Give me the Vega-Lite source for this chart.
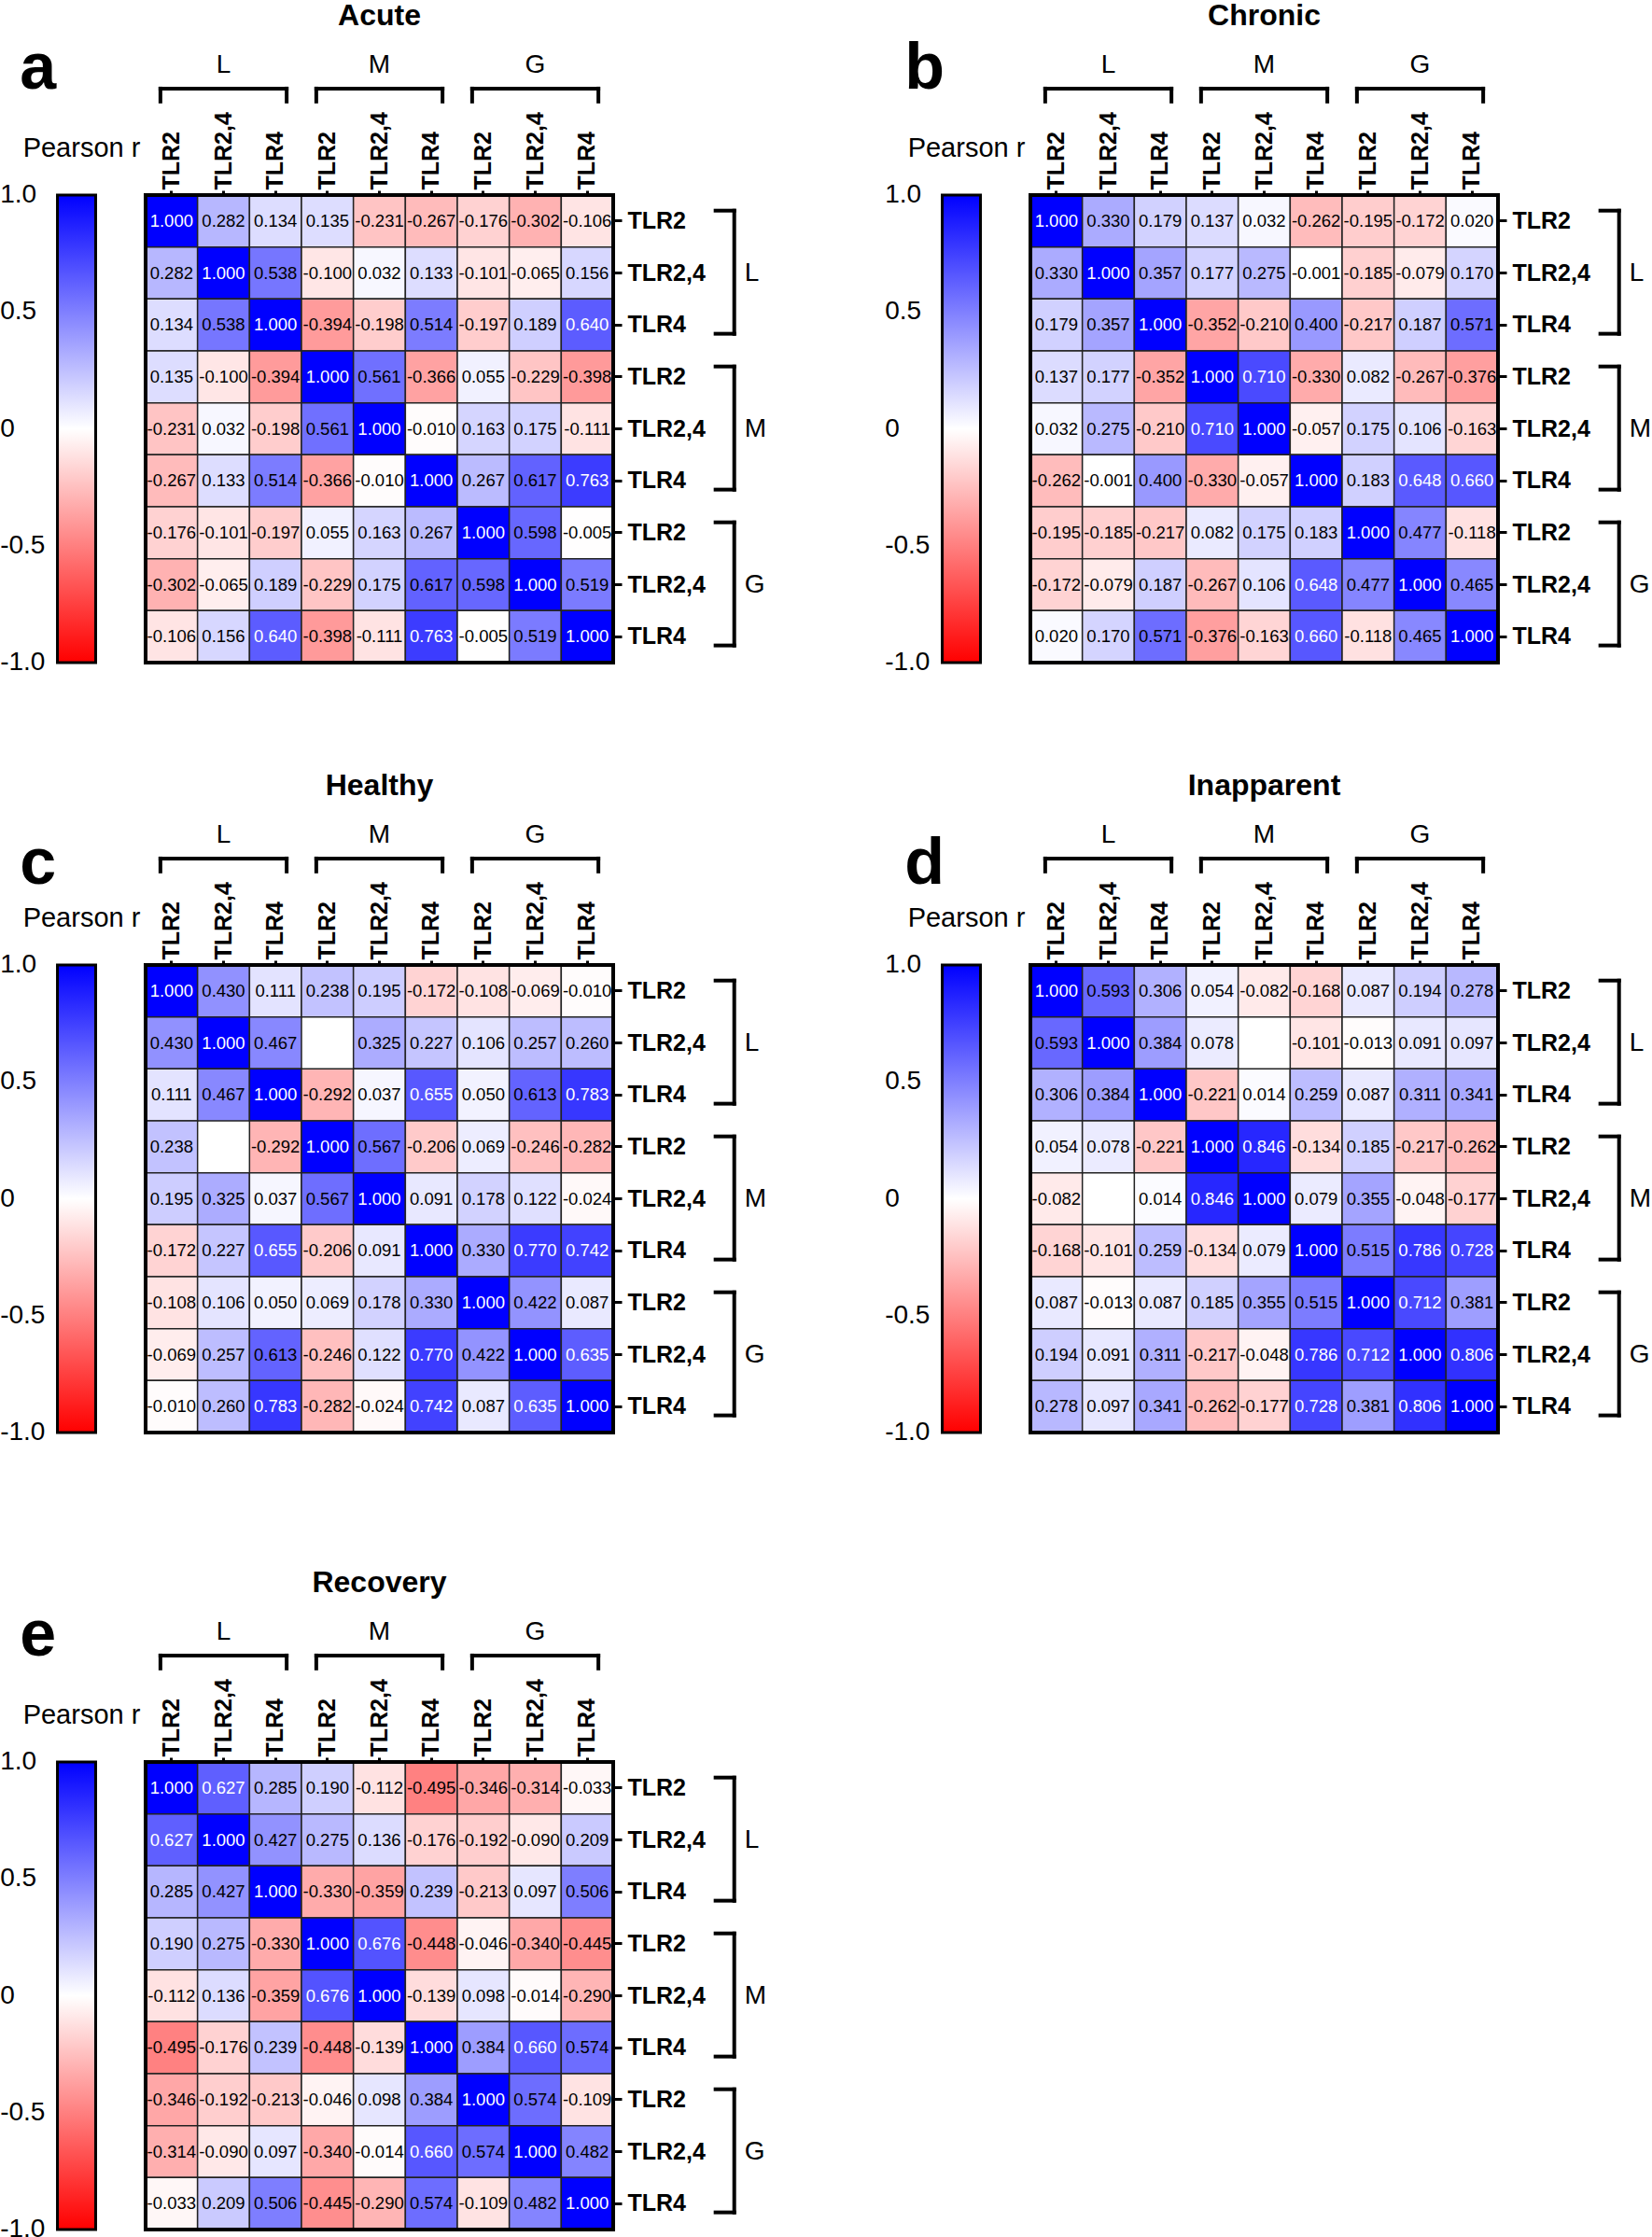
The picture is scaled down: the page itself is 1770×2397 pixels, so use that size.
{
"$schema":"https://vega.github.io/schema/vega-lite/v6.json",
"padding":0,
"config":{
 "view":{"stroke":null},
 "font":"Liberation Sans",
 "rule":{"color":"black","strokeWidth":4,"strokeCap":"square"},
 "axis":{"domain":false,"grid":false,"labelFont":"Liberation Sans","labelFontSize":25,"labelFontWeight":"bold","labelColor":"black","tickColor":"black","tickWidth":3,"labelOverlap":false},
 "locale":{"number":{"decimal":".","thousands":",","grouping":[3],"currency":["$",""],"minus":"-"}}
},
"datasets":{
"acute":[
{"row":"L TLR2","col":"L TLR2","r":1},{"row":"L TLR2","col":"L TLR2,4","r":0.282},{"row":"L TLR2","col":"L TLR4","r":0.134},{"row":"L TLR2","col":"M TLR2","r":0.135},{"row":"L TLR2","col":"M TLR2,4","r":-0.231},{"row":"L TLR2","col":"M TLR4","r":-0.267},{"row":"L TLR2","col":"G TLR2","r":-0.176},{"row":"L TLR2","col":"G TLR2,4","r":-0.302},{"row":"L TLR2","col":"G TLR4","r":-0.106},
{"row":"L TLR2,4","col":"L TLR2","r":0.282},{"row":"L TLR2,4","col":"L TLR2,4","r":1},{"row":"L TLR2,4","col":"L TLR4","r":0.538},{"row":"L TLR2,4","col":"M TLR2","r":-0.1},{"row":"L TLR2,4","col":"M TLR2,4","r":0.032},{"row":"L TLR2,4","col":"M TLR4","r":0.133},{"row":"L TLR2,4","col":"G TLR2","r":-0.101},{"row":"L TLR2,4","col":"G TLR2,4","r":-0.065},{"row":"L TLR2,4","col":"G TLR4","r":0.156},
{"row":"L TLR4","col":"L TLR2","r":0.134},{"row":"L TLR4","col":"L TLR2,4","r":0.538},{"row":"L TLR4","col":"L TLR4","r":1},{"row":"L TLR4","col":"M TLR2","r":-0.394},{"row":"L TLR4","col":"M TLR2,4","r":-0.198},{"row":"L TLR4","col":"M TLR4","r":0.514},{"row":"L TLR4","col":"G TLR2","r":-0.197},{"row":"L TLR4","col":"G TLR2,4","r":0.189},{"row":"L TLR4","col":"G TLR4","r":0.64},
{"row":"M TLR2","col":"L TLR2","r":0.135},{"row":"M TLR2","col":"L TLR2,4","r":-0.1},{"row":"M TLR2","col":"L TLR4","r":-0.394},{"row":"M TLR2","col":"M TLR2","r":1},{"row":"M TLR2","col":"M TLR2,4","r":0.561},{"row":"M TLR2","col":"M TLR4","r":-0.366},{"row":"M TLR2","col":"G TLR2","r":0.055},{"row":"M TLR2","col":"G TLR2,4","r":-0.229},{"row":"M TLR2","col":"G TLR4","r":-0.398},
{"row":"M TLR2,4","col":"L TLR2","r":-0.231},{"row":"M TLR2,4","col":"L TLR2,4","r":0.032},{"row":"M TLR2,4","col":"L TLR4","r":-0.198},{"row":"M TLR2,4","col":"M TLR2","r":0.561},{"row":"M TLR2,4","col":"M TLR2,4","r":1},{"row":"M TLR2,4","col":"M TLR4","r":-0.01},{"row":"M TLR2,4","col":"G TLR2","r":0.163},{"row":"M TLR2,4","col":"G TLR2,4","r":0.175},{"row":"M TLR2,4","col":"G TLR4","r":-0.111},
{"row":"M TLR4","col":"L TLR2","r":-0.267},{"row":"M TLR4","col":"L TLR2,4","r":0.133},{"row":"M TLR4","col":"L TLR4","r":0.514},{"row":"M TLR4","col":"M TLR2","r":-0.366},{"row":"M TLR4","col":"M TLR2,4","r":-0.01},{"row":"M TLR4","col":"M TLR4","r":1},{"row":"M TLR4","col":"G TLR2","r":0.267},{"row":"M TLR4","col":"G TLR2,4","r":0.617},{"row":"M TLR4","col":"G TLR4","r":0.763},
{"row":"G TLR2","col":"L TLR2","r":-0.176},{"row":"G TLR2","col":"L TLR2,4","r":-0.101},{"row":"G TLR2","col":"L TLR4","r":-0.197},{"row":"G TLR2","col":"M TLR2","r":0.055},{"row":"G TLR2","col":"M TLR2,4","r":0.163},{"row":"G TLR2","col":"M TLR4","r":0.267},{"row":"G TLR2","col":"G TLR2","r":1},{"row":"G TLR2","col":"G TLR2,4","r":0.598},{"row":"G TLR2","col":"G TLR4","r":-0.005},
{"row":"G TLR2,4","col":"L TLR2","r":-0.302},{"row":"G TLR2,4","col":"L TLR2,4","r":-0.065},{"row":"G TLR2,4","col":"L TLR4","r":0.189},{"row":"G TLR2,4","col":"M TLR2","r":-0.229},{"row":"G TLR2,4","col":"M TLR2,4","r":0.175},{"row":"G TLR2,4","col":"M TLR4","r":0.617},{"row":"G TLR2,4","col":"G TLR2","r":0.598},{"row":"G TLR2,4","col":"G TLR2,4","r":1},{"row":"G TLR2,4","col":"G TLR4","r":0.519},
{"row":"G TLR4","col":"L TLR2","r":-0.106},{"row":"G TLR4","col":"L TLR2,4","r":0.156},{"row":"G TLR4","col":"L TLR4","r":0.64},{"row":"G TLR4","col":"M TLR2","r":-0.398},{"row":"G TLR4","col":"M TLR2,4","r":-0.111},{"row":"G TLR4","col":"M TLR4","r":0.763},{"row":"G TLR4","col":"G TLR2","r":-0.005},{"row":"G TLR4","col":"G TLR2,4","r":0.519},{"row":"G TLR4","col":"G TLR4","r":1}
],
"chronic":[
{"row":"L TLR2","col":"L TLR2","r":1},{"row":"L TLR2","col":"L TLR2,4","r":0.33},{"row":"L TLR2","col":"L TLR4","r":0.179},{"row":"L TLR2","col":"M TLR2","r":0.137},{"row":"L TLR2","col":"M TLR2,4","r":0.032},{"row":"L TLR2","col":"M TLR4","r":-0.262},{"row":"L TLR2","col":"G TLR2","r":-0.195},{"row":"L TLR2","col":"G TLR2,4","r":-0.172},{"row":"L TLR2","col":"G TLR4","r":0.02},
{"row":"L TLR2,4","col":"L TLR2","r":0.33},{"row":"L TLR2,4","col":"L TLR2,4","r":1},{"row":"L TLR2,4","col":"L TLR4","r":0.357},{"row":"L TLR2,4","col":"M TLR2","r":0.177},{"row":"L TLR2,4","col":"M TLR2,4","r":0.275},{"row":"L TLR2,4","col":"M TLR4","r":-0.001},{"row":"L TLR2,4","col":"G TLR2","r":-0.185},{"row":"L TLR2,4","col":"G TLR2,4","r":-0.079},{"row":"L TLR2,4","col":"G TLR4","r":0.17},
{"row":"L TLR4","col":"L TLR2","r":0.179},{"row":"L TLR4","col":"L TLR2,4","r":0.357},{"row":"L TLR4","col":"L TLR4","r":1},{"row":"L TLR4","col":"M TLR2","r":-0.352},{"row":"L TLR4","col":"M TLR2,4","r":-0.21},{"row":"L TLR4","col":"M TLR4","r":0.4},{"row":"L TLR4","col":"G TLR2","r":-0.217},{"row":"L TLR4","col":"G TLR2,4","r":0.187},{"row":"L TLR4","col":"G TLR4","r":0.571},
{"row":"M TLR2","col":"L TLR2","r":0.137},{"row":"M TLR2","col":"L TLR2,4","r":0.177},{"row":"M TLR2","col":"L TLR4","r":-0.352},{"row":"M TLR2","col":"M TLR2","r":1},{"row":"M TLR2","col":"M TLR2,4","r":0.71},{"row":"M TLR2","col":"M TLR4","r":-0.33},{"row":"M TLR2","col":"G TLR2","r":0.082},{"row":"M TLR2","col":"G TLR2,4","r":-0.267},{"row":"M TLR2","col":"G TLR4","r":-0.376},
{"row":"M TLR2,4","col":"L TLR2","r":0.032},{"row":"M TLR2,4","col":"L TLR2,4","r":0.275},{"row":"M TLR2,4","col":"L TLR4","r":-0.21},{"row":"M TLR2,4","col":"M TLR2","r":0.71},{"row":"M TLR2,4","col":"M TLR2,4","r":1},{"row":"M TLR2,4","col":"M TLR4","r":-0.057},{"row":"M TLR2,4","col":"G TLR2","r":0.175},{"row":"M TLR2,4","col":"G TLR2,4","r":0.106},{"row":"M TLR2,4","col":"G TLR4","r":-0.163},
{"row":"M TLR4","col":"L TLR2","r":-0.262},{"row":"M TLR4","col":"L TLR2,4","r":-0.001},{"row":"M TLR4","col":"L TLR4","r":0.4},{"row":"M TLR4","col":"M TLR2","r":-0.33},{"row":"M TLR4","col":"M TLR2,4","r":-0.057},{"row":"M TLR4","col":"M TLR4","r":1},{"row":"M TLR4","col":"G TLR2","r":0.183},{"row":"M TLR4","col":"G TLR2,4","r":0.648},{"row":"M TLR4","col":"G TLR4","r":0.66},
{"row":"G TLR2","col":"L TLR2","r":-0.195},{"row":"G TLR2","col":"L TLR2,4","r":-0.185},{"row":"G TLR2","col":"L TLR4","r":-0.217},{"row":"G TLR2","col":"M TLR2","r":0.082},{"row":"G TLR2","col":"M TLR2,4","r":0.175},{"row":"G TLR2","col":"M TLR4","r":0.183},{"row":"G TLR2","col":"G TLR2","r":1},{"row":"G TLR2","col":"G TLR2,4","r":0.477},{"row":"G TLR2","col":"G TLR4","r":-0.118},
{"row":"G TLR2,4","col":"L TLR2","r":-0.172},{"row":"G TLR2,4","col":"L TLR2,4","r":-0.079},{"row":"G TLR2,4","col":"L TLR4","r":0.187},{"row":"G TLR2,4","col":"M TLR2","r":-0.267},{"row":"G TLR2,4","col":"M TLR2,4","r":0.106},{"row":"G TLR2,4","col":"M TLR4","r":0.648},{"row":"G TLR2,4","col":"G TLR2","r":0.477},{"row":"G TLR2,4","col":"G TLR2,4","r":1},{"row":"G TLR2,4","col":"G TLR4","r":0.465},
{"row":"G TLR4","col":"L TLR2","r":0.02},{"row":"G TLR4","col":"L TLR2,4","r":0.17},{"row":"G TLR4","col":"L TLR4","r":0.571},{"row":"G TLR4","col":"M TLR2","r":-0.376},{"row":"G TLR4","col":"M TLR2,4","r":-0.163},{"row":"G TLR4","col":"M TLR4","r":0.66},{"row":"G TLR4","col":"G TLR2","r":-0.118},{"row":"G TLR4","col":"G TLR2,4","r":0.465},{"row":"G TLR4","col":"G TLR4","r":1}
],
"healthy":[
{"row":"L TLR2","col":"L TLR2","r":1},{"row":"L TLR2","col":"L TLR2,4","r":0.43},{"row":"L TLR2","col":"L TLR4","r":0.111},{"row":"L TLR2","col":"M TLR2","r":0.238},{"row":"L TLR2","col":"M TLR2,4","r":0.195},{"row":"L TLR2","col":"M TLR4","r":-0.172},{"row":"L TLR2","col":"G TLR2","r":-0.108},{"row":"L TLR2","col":"G TLR2,4","r":-0.069},{"row":"L TLR2","col":"G TLR4","r":-0.01},
{"row":"L TLR2,4","col":"L TLR2","r":0.43},{"row":"L TLR2,4","col":"L TLR2,4","r":1},{"row":"L TLR2,4","col":"L TLR4","r":0.467},{"row":"L TLR2,4","col":"M TLR2,4","r":0.325},{"row":"L TLR2,4","col":"M TLR4","r":0.227},{"row":"L TLR2,4","col":"G TLR2","r":0.106},{"row":"L TLR2,4","col":"G TLR2,4","r":0.257},{"row":"L TLR2,4","col":"G TLR4","r":0.26},
{"row":"L TLR4","col":"L TLR2","r":0.111},{"row":"L TLR4","col":"L TLR2,4","r":0.467},{"row":"L TLR4","col":"L TLR4","r":1},{"row":"L TLR4","col":"M TLR2","r":-0.292},{"row":"L TLR4","col":"M TLR2,4","r":0.037},{"row":"L TLR4","col":"M TLR4","r":0.655},{"row":"L TLR4","col":"G TLR2","r":0.05},{"row":"L TLR4","col":"G TLR2,4","r":0.613},{"row":"L TLR4","col":"G TLR4","r":0.783},
{"row":"M TLR2","col":"L TLR2","r":0.238},{"row":"M TLR2","col":"L TLR4","r":-0.292},{"row":"M TLR2","col":"M TLR2","r":1},{"row":"M TLR2","col":"M TLR2,4","r":0.567},{"row":"M TLR2","col":"M TLR4","r":-0.206},{"row":"M TLR2","col":"G TLR2","r":0.069},{"row":"M TLR2","col":"G TLR2,4","r":-0.246},{"row":"M TLR2","col":"G TLR4","r":-0.282},
{"row":"M TLR2,4","col":"L TLR2","r":0.195},{"row":"M TLR2,4","col":"L TLR2,4","r":0.325},{"row":"M TLR2,4","col":"L TLR4","r":0.037},{"row":"M TLR2,4","col":"M TLR2","r":0.567},{"row":"M TLR2,4","col":"M TLR2,4","r":1},{"row":"M TLR2,4","col":"M TLR4","r":0.091},{"row":"M TLR2,4","col":"G TLR2","r":0.178},{"row":"M TLR2,4","col":"G TLR2,4","r":0.122},{"row":"M TLR2,4","col":"G TLR4","r":-0.024},
{"row":"M TLR4","col":"L TLR2","r":-0.172},{"row":"M TLR4","col":"L TLR2,4","r":0.227},{"row":"M TLR4","col":"L TLR4","r":0.655},{"row":"M TLR4","col":"M TLR2","r":-0.206},{"row":"M TLR4","col":"M TLR2,4","r":0.091},{"row":"M TLR4","col":"M TLR4","r":1},{"row":"M TLR4","col":"G TLR2","r":0.33},{"row":"M TLR4","col":"G TLR2,4","r":0.77},{"row":"M TLR4","col":"G TLR4","r":0.742},
{"row":"G TLR2","col":"L TLR2","r":-0.108},{"row":"G TLR2","col":"L TLR2,4","r":0.106},{"row":"G TLR2","col":"L TLR4","r":0.05},{"row":"G TLR2","col":"M TLR2","r":0.069},{"row":"G TLR2","col":"M TLR2,4","r":0.178},{"row":"G TLR2","col":"M TLR4","r":0.33},{"row":"G TLR2","col":"G TLR2","r":1},{"row":"G TLR2","col":"G TLR2,4","r":0.422},{"row":"G TLR2","col":"G TLR4","r":0.087},
{"row":"G TLR2,4","col":"L TLR2","r":-0.069},{"row":"G TLR2,4","col":"L TLR2,4","r":0.257},{"row":"G TLR2,4","col":"L TLR4","r":0.613},{"row":"G TLR2,4","col":"M TLR2","r":-0.246},{"row":"G TLR2,4","col":"M TLR2,4","r":0.122},{"row":"G TLR2,4","col":"M TLR4","r":0.77},{"row":"G TLR2,4","col":"G TLR2","r":0.422},{"row":"G TLR2,4","col":"G TLR2,4","r":1},{"row":"G TLR2,4","col":"G TLR4","r":0.635},
{"row":"G TLR4","col":"L TLR2","r":-0.01},{"row":"G TLR4","col":"L TLR2,4","r":0.26},{"row":"G TLR4","col":"L TLR4","r":0.783},{"row":"G TLR4","col":"M TLR2","r":-0.282},{"row":"G TLR4","col":"M TLR2,4","r":-0.024},{"row":"G TLR4","col":"M TLR4","r":0.742},{"row":"G TLR4","col":"G TLR2","r":0.087},{"row":"G TLR4","col":"G TLR2,4","r":0.635},{"row":"G TLR4","col":"G TLR4","r":1}
],
"inapparent":[
{"row":"L TLR2","col":"L TLR2","r":1},{"row":"L TLR2","col":"L TLR2,4","r":0.593},{"row":"L TLR2","col":"L TLR4","r":0.306},{"row":"L TLR2","col":"M TLR2","r":0.054},{"row":"L TLR2","col":"M TLR2,4","r":-0.082},{"row":"L TLR2","col":"M TLR4","r":-0.168},{"row":"L TLR2","col":"G TLR2","r":0.087},{"row":"L TLR2","col":"G TLR2,4","r":0.194},{"row":"L TLR2","col":"G TLR4","r":0.278},
{"row":"L TLR2,4","col":"L TLR2","r":0.593},{"row":"L TLR2,4","col":"L TLR2,4","r":1},{"row":"L TLR2,4","col":"L TLR4","r":0.384},{"row":"L TLR2,4","col":"M TLR2","r":0.078},{"row":"L TLR2,4","col":"M TLR4","r":-0.101},{"row":"L TLR2,4","col":"G TLR2","r":-0.013},{"row":"L TLR2,4","col":"G TLR2,4","r":0.091},{"row":"L TLR2,4","col":"G TLR4","r":0.097},
{"row":"L TLR4","col":"L TLR2","r":0.306},{"row":"L TLR4","col":"L TLR2,4","r":0.384},{"row":"L TLR4","col":"L TLR4","r":1},{"row":"L TLR4","col":"M TLR2","r":-0.221},{"row":"L TLR4","col":"M TLR2,4","r":0.014},{"row":"L TLR4","col":"M TLR4","r":0.259},{"row":"L TLR4","col":"G TLR2","r":0.087},{"row":"L TLR4","col":"G TLR2,4","r":0.311},{"row":"L TLR4","col":"G TLR4","r":0.341},
{"row":"M TLR2","col":"L TLR2","r":0.054},{"row":"M TLR2","col":"L TLR2,4","r":0.078},{"row":"M TLR2","col":"L TLR4","r":-0.221},{"row":"M TLR2","col":"M TLR2","r":1},{"row":"M TLR2","col":"M TLR2,4","r":0.846},{"row":"M TLR2","col":"M TLR4","r":-0.134},{"row":"M TLR2","col":"G TLR2","r":0.185},{"row":"M TLR2","col":"G TLR2,4","r":-0.217},{"row":"M TLR2","col":"G TLR4","r":-0.262},
{"row":"M TLR2,4","col":"L TLR2","r":-0.082},{"row":"M TLR2,4","col":"L TLR4","r":0.014},{"row":"M TLR2,4","col":"M TLR2","r":0.846},{"row":"M TLR2,4","col":"M TLR2,4","r":1},{"row":"M TLR2,4","col":"M TLR4","r":0.079},{"row":"M TLR2,4","col":"G TLR2","r":0.355},{"row":"M TLR2,4","col":"G TLR2,4","r":-0.048},{"row":"M TLR2,4","col":"G TLR4","r":-0.177},
{"row":"M TLR4","col":"L TLR2","r":-0.168},{"row":"M TLR4","col":"L TLR2,4","r":-0.101},{"row":"M TLR4","col":"L TLR4","r":0.259},{"row":"M TLR4","col":"M TLR2","r":-0.134},{"row":"M TLR4","col":"M TLR2,4","r":0.079},{"row":"M TLR4","col":"M TLR4","r":1},{"row":"M TLR4","col":"G TLR2","r":0.515},{"row":"M TLR4","col":"G TLR2,4","r":0.786},{"row":"M TLR4","col":"G TLR4","r":0.728},
{"row":"G TLR2","col":"L TLR2","r":0.087},{"row":"G TLR2","col":"L TLR2,4","r":-0.013},{"row":"G TLR2","col":"L TLR4","r":0.087},{"row":"G TLR2","col":"M TLR2","r":0.185},{"row":"G TLR2","col":"M TLR2,4","r":0.355},{"row":"G TLR2","col":"M TLR4","r":0.515},{"row":"G TLR2","col":"G TLR2","r":1},{"row":"G TLR2","col":"G TLR2,4","r":0.712},{"row":"G TLR2","col":"G TLR4","r":0.381},
{"row":"G TLR2,4","col":"L TLR2","r":0.194},{"row":"G TLR2,4","col":"L TLR2,4","r":0.091},{"row":"G TLR2,4","col":"L TLR4","r":0.311},{"row":"G TLR2,4","col":"M TLR2","r":-0.217},{"row":"G TLR2,4","col":"M TLR2,4","r":-0.048},{"row":"G TLR2,4","col":"M TLR4","r":0.786},{"row":"G TLR2,4","col":"G TLR2","r":0.712},{"row":"G TLR2,4","col":"G TLR2,4","r":1},{"row":"G TLR2,4","col":"G TLR4","r":0.806},
{"row":"G TLR4","col":"L TLR2","r":0.278},{"row":"G TLR4","col":"L TLR2,4","r":0.097},{"row":"G TLR4","col":"L TLR4","r":0.341},{"row":"G TLR4","col":"M TLR2","r":-0.262},{"row":"G TLR4","col":"M TLR2,4","r":-0.177},{"row":"G TLR4","col":"M TLR4","r":0.728},{"row":"G TLR4","col":"G TLR2","r":0.381},{"row":"G TLR4","col":"G TLR2,4","r":0.806},{"row":"G TLR4","col":"G TLR4","r":1}
],
"recovery":[
{"row":"L TLR2","col":"L TLR2","r":1},{"row":"L TLR2","col":"L TLR2,4","r":0.627},{"row":"L TLR2","col":"L TLR4","r":0.285},{"row":"L TLR2","col":"M TLR2","r":0.19},{"row":"L TLR2","col":"M TLR2,4","r":-0.112},{"row":"L TLR2","col":"M TLR4","r":-0.495},{"row":"L TLR2","col":"G TLR2","r":-0.346},{"row":"L TLR2","col":"G TLR2,4","r":-0.314},{"row":"L TLR2","col":"G TLR4","r":-0.033},
{"row":"L TLR2,4","col":"L TLR2","r":0.627},{"row":"L TLR2,4","col":"L TLR2,4","r":1},{"row":"L TLR2,4","col":"L TLR4","r":0.427},{"row":"L TLR2,4","col":"M TLR2","r":0.275},{"row":"L TLR2,4","col":"M TLR2,4","r":0.136},{"row":"L TLR2,4","col":"M TLR4","r":-0.176},{"row":"L TLR2,4","col":"G TLR2","r":-0.192},{"row":"L TLR2,4","col":"G TLR2,4","r":-0.09},{"row":"L TLR2,4","col":"G TLR4","r":0.209},
{"row":"L TLR4","col":"L TLR2","r":0.285},{"row":"L TLR4","col":"L TLR2,4","r":0.427},{"row":"L TLR4","col":"L TLR4","r":1},{"row":"L TLR4","col":"M TLR2","r":-0.33},{"row":"L TLR4","col":"M TLR2,4","r":-0.359},{"row":"L TLR4","col":"M TLR4","r":0.239},{"row":"L TLR4","col":"G TLR2","r":-0.213},{"row":"L TLR4","col":"G TLR2,4","r":0.097},{"row":"L TLR4","col":"G TLR4","r":0.506},
{"row":"M TLR2","col":"L TLR2","r":0.19},{"row":"M TLR2","col":"L TLR2,4","r":0.275},{"row":"M TLR2","col":"L TLR4","r":-0.33},{"row":"M TLR2","col":"M TLR2","r":1},{"row":"M TLR2","col":"M TLR2,4","r":0.676},{"row":"M TLR2","col":"M TLR4","r":-0.448},{"row":"M TLR2","col":"G TLR2","r":-0.046},{"row":"M TLR2","col":"G TLR2,4","r":-0.34},{"row":"M TLR2","col":"G TLR4","r":-0.445},
{"row":"M TLR2,4","col":"L TLR2","r":-0.112},{"row":"M TLR2,4","col":"L TLR2,4","r":0.136},{"row":"M TLR2,4","col":"L TLR4","r":-0.359},{"row":"M TLR2,4","col":"M TLR2","r":0.676},{"row":"M TLR2,4","col":"M TLR2,4","r":1},{"row":"M TLR2,4","col":"M TLR4","r":-0.139},{"row":"M TLR2,4","col":"G TLR2","r":0.098},{"row":"M TLR2,4","col":"G TLR2,4","r":-0.014},{"row":"M TLR2,4","col":"G TLR4","r":-0.29},
{"row":"M TLR4","col":"L TLR2","r":-0.495},{"row":"M TLR4","col":"L TLR2,4","r":-0.176},{"row":"M TLR4","col":"L TLR4","r":0.239},{"row":"M TLR4","col":"M TLR2","r":-0.448},{"row":"M TLR4","col":"M TLR2,4","r":-0.139},{"row":"M TLR4","col":"M TLR4","r":1},{"row":"M TLR4","col":"G TLR2","r":0.384},{"row":"M TLR4","col":"G TLR2,4","r":0.66},{"row":"M TLR4","col":"G TLR4","r":0.574},
{"row":"G TLR2","col":"L TLR2","r":-0.346},{"row":"G TLR2","col":"L TLR2,4","r":-0.192},{"row":"G TLR2","col":"L TLR4","r":-0.213},{"row":"G TLR2","col":"M TLR2","r":-0.046},{"row":"G TLR2","col":"M TLR2,4","r":0.098},{"row":"G TLR2","col":"M TLR4","r":0.384},{"row":"G TLR2","col":"G TLR2","r":1},{"row":"G TLR2","col":"G TLR2,4","r":0.574},{"row":"G TLR2","col":"G TLR4","r":-0.109},
{"row":"G TLR2,4","col":"L TLR2","r":-0.314},{"row":"G TLR2,4","col":"L TLR2,4","r":-0.09},{"row":"G TLR2,4","col":"L TLR4","r":0.097},{"row":"G TLR2,4","col":"M TLR2","r":-0.34},{"row":"G TLR2,4","col":"M TLR2,4","r":-0.014},{"row":"G TLR2,4","col":"M TLR4","r":0.66},{"row":"G TLR2,4","col":"G TLR2","r":0.574},{"row":"G TLR2,4","col":"G TLR2,4","r":1},{"row":"G TLR2,4","col":"G TLR4","r":0.482},
{"row":"G TLR4","col":"L TLR2","r":-0.033},{"row":"G TLR4","col":"L TLR2,4","r":0.209},{"row":"G TLR4","col":"L TLR4","r":0.506},{"row":"G TLR4","col":"M TLR2","r":-0.445},{"row":"G TLR4","col":"M TLR2,4","r":-0.29},{"row":"G TLR4","col":"M TLR4","r":0.574},{"row":"G TLR4","col":"G TLR2","r":-0.109},{"row":"G TLR4","col":"G TLR2,4","r":0.482},{"row":"G TLR4","col":"G TLR4","r":1}
]
},
"spacing":101,
"vconcat":[
{"hconcat":[
{"width":501,"height":501,"resolve":{"scale":{"x":"independent","y":"independent"}},"layer":[
{"data":{"name":"acute"},"mark":{"type":"rect","stroke":"#222222","strokeWidth":1.5},"encoding":{"x":{"field":"col","type":"nominal","title":null,"scale":{"domain":["L TLR2","L TLR2,4","L TLR4","M TLR2","M TLR2,4","M TLR4","G TLR2","G TLR2,4","G TLR4"],"paddingInner":0,"paddingOuter":0},"axis":{"orient":"top","labelAngle":270,"labelAlign":"left","labelBaseline":"middle","tickSize":5,"labelPadding":1,"labelExpr":"split(datum.value, ' ')[1]"}},"y":{"field":"row","type":"nominal","title":null,"scale":{"domain":["L TLR2","L TLR2,4","L TLR4","M TLR2","M TLR2,4","M TLR4","G TLR2","G TLR2,4","G TLR4"],"paddingInner":0,"paddingOuter":0},"axis":{"orient":"right","tickSize":9,"labelPadding":6,"labelExpr":"split(datum.value, ' ')[1]"}},"color":{"field":"r","type":"quantitative","scale":{"domain":[-1,0,1],"range":["#ff0000","#ffffff","#0000ff"],"interpolate":"rgb"},"legend":null}}},
{"data":{"name":"acute"},"mark":{"type":"text","fontSize":18.5},"encoding":{"x":{"field":"col","type":"nominal","scale":{"domain":["L TLR2","L TLR2,4","L TLR4","M TLR2","M TLR2,4","M TLR4","G TLR2","G TLR2,4","G TLR4"],"paddingInner":0,"paddingOuter":0},"axis":null},"y":{"field":"row","type":"nominal","scale":{"domain":["L TLR2","L TLR2,4","L TLR4","M TLR2","M TLR2,4","M TLR4","G TLR2","G TLR2,4","G TLR4"],"paddingInner":0,"paddingOuter":0},"axis":null},"text":{"field":"r","type":"quantitative","format":".3f"},"color":{"condition":{"test":"datum.r >= 0.62","value":"white"},"value":"black"}}},
{"data":{"values":[{}]},"mark":{"type":"rect","fill":"transparent","stroke":"black","strokeWidth":4},"encoding":{"x":{"datum":0,"type":"quantitative","scale":{"domain":[0,9],"nice":false,"zero":false},"axis":null},"x2":{"datum":9},"y":{"datum":0,"type":"quantitative","scale":{"domain":[0,9],"nice":false,"zero":false,"reverse":true},"axis":null},"y2":{"datum":9}}},
{"data":{"values":[{}]},"mark":{"type":"rect","fill":{"gradient":"linear","x1":0,"y1":0,"x2":0,"y2":1,"stops":[{"offset":0,"color":"#0000ff"},{"offset":0.5,"color":"#ffffff"},{"offset":1,"color":"#ff0000"}]},"stroke":"black","strokeWidth":3},"encoding":{"x":{"datum":-1.697,"type":"quantitative","scale":{"domain":[0,9],"nice":false,"zero":false},"axis":null},"x2":{"datum":-0.961},"y":{"datum":0,"type":"quantitative","scale":{"domain":[0,9],"nice":false,"zero":false,"reverse":true},"axis":null},"y2":{"datum":9}}},
{"data":{"values":[{"v":1,"t":"1.0"},{"v":0.5,"t":"0.5"},{"v":0,"t":"0"},{"v":-0.5,"t":"-0.5"},{"v":-1,"t":"-1.0"}]},"mark":{"type":"text","align":"left","baseline":"middle","fontSize":28,"color":"black"},"encoding":{"x":{"datum":-2.8,"type":"quantitative","scale":{"domain":[0,9],"nice":false,"zero":false},"axis":null},"y":{"field":"v","type":"quantitative","scale":{"domain":[-1,1],"nice":false,"zero":false},"axis":null},"text":{"field":"t"}}},
{"data":{"values":[{"t":"Pearson r"}]},"mark":{"type":"text","align":"left","baseline":"alphabetic","fontSize":29,"color":"black"},"encoding":{"x":{"datum":-2.36,"type":"quantitative","scale":{"domain":[0,9],"nice":false,"zero":false},"axis":null},"y":{"datum":-0.736,"type":"quantitative","scale":{"domain":[0,9],"nice":false,"zero":false,"reverse":true},"axis":null},"text":{"field":"t"}}},
{"data":{"values":[{"t":"Acute"}]},"mark":{"type":"text","align":"center","baseline":"alphabetic","fontSize":32,"fontWeight":"bold","color":"black"},"encoding":{"x":{"datum":4.5,"type":"quantitative","scale":{"domain":[0,9],"nice":false,"zero":false},"axis":null},"y":{"datum":-3.27,"type":"quantitative","scale":{"domain":[0,9],"nice":false,"zero":false,"reverse":true},"axis":null},"text":{"field":"t"}}},
{"data":{"values":[{"t":"a"}]},"mark":{"type":"text","align":"left","baseline":"alphabetic","fontSize":70,"fontWeight":"bold","color":"black"},"encoding":{"x":{"datum":-2.42,"type":"quantitative","scale":{"domain":[0,9],"nice":false,"zero":false},"axis":null},"y":{"datum":-2.05,"type":"quantitative","scale":{"domain":[0,9],"nice":false,"zero":false,"reverse":true},"axis":null},"text":{"field":"t"}}},
{"data":{"values":[{"g":"L"},{"g":"M"},{"g":"G"}]},"mark":{"type":"text","align":"center","baseline":"alphabetic","fontSize":28,"color":"black"},"encoding":{"x":{"field":"g","type":"nominal","scale":{"domain":["L","M","G"],"paddingInner":0,"paddingOuter":0},"axis":null},"y":{"datum":-2.35,"type":"quantitative","scale":{"domain":[0,9],"nice":false,"zero":false,"reverse":true},"axis":null},"text":{"field":"g"}}},
{"data":{"values":[{"g":"L"},{"g":"M"},{"g":"G"}]},"mark":{"type":"rule"},"encoding":{"x":{"field":"g","type":"nominal","scale":{"domain":["L","M","G"],"paddingInner":0,"paddingOuter":0},"axis":null,"bandPosition":0.095},"x2":{"field":"g","bandPosition":0.905},"y":{"datum":-2.05,"type":"quantitative","scale":{"domain":[0,9],"nice":false,"zero":false,"reverse":true},"axis":null}}},
{"data":{"values":[{"g":"L"},{"g":"M"},{"g":"G"}]},"mark":{"type":"rule"},"encoding":{"x":{"field":"g","type":"nominal","scale":{"domain":["L","M","G"],"paddingInner":0,"paddingOuter":0},"axis":null,"bandPosition":0.095},"y":{"datum":-2.05,"type":"quantitative","scale":{"domain":[0,9],"nice":false,"zero":false,"reverse":true},"axis":null},"y2":{"datum":-1.8}}},
{"data":{"values":[{"g":"L"},{"g":"M"},{"g":"G"}]},"mark":{"type":"rule"},"encoding":{"x":{"field":"g","type":"nominal","scale":{"domain":["L","M","G"],"paddingInner":0,"paddingOuter":0},"axis":null,"bandPosition":0.905},"y":{"datum":-2.05,"type":"quantitative","scale":{"domain":[0,9],"nice":false,"zero":false,"reverse":true},"axis":null},"y2":{"datum":-1.8}}},
{"data":{"values":[{"g":"L"},{"g":"M"},{"g":"G"}]},"mark":{"type":"rule"},"encoding":{"x":{"datum":11.33,"type":"quantitative","scale":{"domain":[0,9],"nice":false,"zero":false},"axis":null},"y":{"field":"g","type":"nominal","scale":{"domain":["L","M","G"],"paddingInner":0,"paddingOuter":0},"axis":null,"bandPosition":0.1},"y2":{"field":"g","bandPosition":0.89}}},
{"data":{"values":[{"g":"L"},{"g":"M"},{"g":"G"}]},"mark":{"type":"rule"},"encoding":{"x":{"datum":10.97,"type":"quantitative","scale":{"domain":[0,9],"nice":false,"zero":false},"axis":null},"x2":{"datum":11.33},"y":{"field":"g","type":"nominal","scale":{"domain":["L","M","G"],"paddingInner":0,"paddingOuter":0},"axis":null,"bandPosition":0.1}}},
{"data":{"values":[{"g":"L"},{"g":"M"},{"g":"G"}]},"mark":{"type":"rule"},"encoding":{"x":{"datum":10.97,"type":"quantitative","scale":{"domain":[0,9],"nice":false,"zero":false},"axis":null},"x2":{"datum":11.33},"y":{"field":"g","type":"nominal","scale":{"domain":["L","M","G"],"paddingInner":0,"paddingOuter":0},"axis":null,"bandPosition":0.89}}},
{"data":{"values":[{"g":"L"},{"g":"M"},{"g":"G"}]},"mark":{"type":"text","align":"left","baseline":"middle","fontSize":28,"color":"black"},"encoding":{"x":{"datum":11.53,"type":"quantitative","scale":{"domain":[0,9],"nice":false,"zero":false},"axis":null},"y":{"field":"g","type":"nominal","scale":{"domain":["L","M","G"],"paddingInner":0,"paddingOuter":0},"axis":null},"text":{"field":"g"}}}
]},
{"width":501,"height":501,"resolve":{"scale":{"x":"independent","y":"independent"}},"layer":[
{"data":{"name":"chronic"},"mark":{"type":"rect","stroke":"#222222","strokeWidth":1.5},"encoding":{"x":{"field":"col","type":"nominal","title":null,"scale":{"domain":["L TLR2","L TLR2,4","L TLR4","M TLR2","M TLR2,4","M TLR4","G TLR2","G TLR2,4","G TLR4"],"paddingInner":0,"paddingOuter":0},"axis":{"orient":"top","labelAngle":270,"labelAlign":"left","labelBaseline":"middle","tickSize":5,"labelPadding":1,"labelExpr":"split(datum.value, ' ')[1]"}},"y":{"field":"row","type":"nominal","title":null,"scale":{"domain":["L TLR2","L TLR2,4","L TLR4","M TLR2","M TLR2,4","M TLR4","G TLR2","G TLR2,4","G TLR4"],"paddingInner":0,"paddingOuter":0},"axis":{"orient":"right","tickSize":9,"labelPadding":6,"labelExpr":"split(datum.value, ' ')[1]"}},"color":{"field":"r","type":"quantitative","scale":{"domain":[-1,0,1],"range":["#ff0000","#ffffff","#0000ff"],"interpolate":"rgb"},"legend":null}}},
{"data":{"name":"chronic"},"mark":{"type":"text","fontSize":18.5},"encoding":{"x":{"field":"col","type":"nominal","scale":{"domain":["L TLR2","L TLR2,4","L TLR4","M TLR2","M TLR2,4","M TLR4","G TLR2","G TLR2,4","G TLR4"],"paddingInner":0,"paddingOuter":0},"axis":null},"y":{"field":"row","type":"nominal","scale":{"domain":["L TLR2","L TLR2,4","L TLR4","M TLR2","M TLR2,4","M TLR4","G TLR2","G TLR2,4","G TLR4"],"paddingInner":0,"paddingOuter":0},"axis":null},"text":{"field":"r","type":"quantitative","format":".3f"},"color":{"condition":{"test":"datum.r >= 0.62","value":"white"},"value":"black"}}},
{"data":{"values":[{}]},"mark":{"type":"rect","fill":"transparent","stroke":"black","strokeWidth":4},"encoding":{"x":{"datum":0,"type":"quantitative","scale":{"domain":[0,9],"nice":false,"zero":false},"axis":null},"x2":{"datum":9},"y":{"datum":0,"type":"quantitative","scale":{"domain":[0,9],"nice":false,"zero":false,"reverse":true},"axis":null},"y2":{"datum":9}}},
{"data":{"values":[{}]},"mark":{"type":"rect","fill":{"gradient":"linear","x1":0,"y1":0,"x2":0,"y2":1,"stops":[{"offset":0,"color":"#0000ff"},{"offset":0.5,"color":"#ffffff"},{"offset":1,"color":"#ff0000"}]},"stroke":"black","strokeWidth":3},"encoding":{"x":{"datum":-1.697,"type":"quantitative","scale":{"domain":[0,9],"nice":false,"zero":false},"axis":null},"x2":{"datum":-0.961},"y":{"datum":0,"type":"quantitative","scale":{"domain":[0,9],"nice":false,"zero":false,"reverse":true},"axis":null},"y2":{"datum":9}}},
{"data":{"values":[{"v":1,"t":"1.0"},{"v":0.5,"t":"0.5"},{"v":0,"t":"0"},{"v":-0.5,"t":"-0.5"},{"v":-1,"t":"-1.0"}]},"mark":{"type":"text","align":"left","baseline":"middle","fontSize":28,"color":"black"},"encoding":{"x":{"datum":-2.8,"type":"quantitative","scale":{"domain":[0,9],"nice":false,"zero":false},"axis":null},"y":{"field":"v","type":"quantitative","scale":{"domain":[-1,1],"nice":false,"zero":false},"axis":null},"text":{"field":"t"}}},
{"data":{"values":[{"t":"Pearson r"}]},"mark":{"type":"text","align":"left","baseline":"alphabetic","fontSize":29,"color":"black"},"encoding":{"x":{"datum":-2.36,"type":"quantitative","scale":{"domain":[0,9],"nice":false,"zero":false},"axis":null},"y":{"datum":-0.736,"type":"quantitative","scale":{"domain":[0,9],"nice":false,"zero":false,"reverse":true},"axis":null},"text":{"field":"t"}}},
{"data":{"values":[{"t":"Chronic"}]},"mark":{"type":"text","align":"center","baseline":"alphabetic","fontSize":32,"fontWeight":"bold","color":"black"},"encoding":{"x":{"datum":4.5,"type":"quantitative","scale":{"domain":[0,9],"nice":false,"zero":false},"axis":null},"y":{"datum":-3.27,"type":"quantitative","scale":{"domain":[0,9],"nice":false,"zero":false,"reverse":true},"axis":null},"text":{"field":"t"}}},
{"data":{"values":[{"t":"b"}]},"mark":{"type":"text","align":"left","baseline":"alphabetic","fontSize":70,"fontWeight":"bold","color":"black"},"encoding":{"x":{"datum":-2.42,"type":"quantitative","scale":{"domain":[0,9],"nice":false,"zero":false},"axis":null},"y":{"datum":-2.05,"type":"quantitative","scale":{"domain":[0,9],"nice":false,"zero":false,"reverse":true},"axis":null},"text":{"field":"t"}}},
{"data":{"values":[{"g":"L"},{"g":"M"},{"g":"G"}]},"mark":{"type":"text","align":"center","baseline":"alphabetic","fontSize":28,"color":"black"},"encoding":{"x":{"field":"g","type":"nominal","scale":{"domain":["L","M","G"],"paddingInner":0,"paddingOuter":0},"axis":null},"y":{"datum":-2.35,"type":"quantitative","scale":{"domain":[0,9],"nice":false,"zero":false,"reverse":true},"axis":null},"text":{"field":"g"}}},
{"data":{"values":[{"g":"L"},{"g":"M"},{"g":"G"}]},"mark":{"type":"rule"},"encoding":{"x":{"field":"g","type":"nominal","scale":{"domain":["L","M","G"],"paddingInner":0,"paddingOuter":0},"axis":null,"bandPosition":0.095},"x2":{"field":"g","bandPosition":0.905},"y":{"datum":-2.05,"type":"quantitative","scale":{"domain":[0,9],"nice":false,"zero":false,"reverse":true},"axis":null}}},
{"data":{"values":[{"g":"L"},{"g":"M"},{"g":"G"}]},"mark":{"type":"rule"},"encoding":{"x":{"field":"g","type":"nominal","scale":{"domain":["L","M","G"],"paddingInner":0,"paddingOuter":0},"axis":null,"bandPosition":0.095},"y":{"datum":-2.05,"type":"quantitative","scale":{"domain":[0,9],"nice":false,"zero":false,"reverse":true},"axis":null},"y2":{"datum":-1.8}}},
{"data":{"values":[{"g":"L"},{"g":"M"},{"g":"G"}]},"mark":{"type":"rule"},"encoding":{"x":{"field":"g","type":"nominal","scale":{"domain":["L","M","G"],"paddingInner":0,"paddingOuter":0},"axis":null,"bandPosition":0.905},"y":{"datum":-2.05,"type":"quantitative","scale":{"domain":[0,9],"nice":false,"zero":false,"reverse":true},"axis":null},"y2":{"datum":-1.8}}},
{"data":{"values":[{"g":"L"},{"g":"M"},{"g":"G"}]},"mark":{"type":"rule"},"encoding":{"x":{"datum":11.33,"type":"quantitative","scale":{"domain":[0,9],"nice":false,"zero":false},"axis":null},"y":{"field":"g","type":"nominal","scale":{"domain":["L","M","G"],"paddingInner":0,"paddingOuter":0},"axis":null,"bandPosition":0.1},"y2":{"field":"g","bandPosition":0.89}}},
{"data":{"values":[{"g":"L"},{"g":"M"},{"g":"G"}]},"mark":{"type":"rule"},"encoding":{"x":{"datum":10.97,"type":"quantitative","scale":{"domain":[0,9],"nice":false,"zero":false},"axis":null},"x2":{"datum":11.33},"y":{"field":"g","type":"nominal","scale":{"domain":["L","M","G"],"paddingInner":0,"paddingOuter":0},"axis":null,"bandPosition":0.1}}},
{"data":{"values":[{"g":"L"},{"g":"M"},{"g":"G"}]},"mark":{"type":"rule"},"encoding":{"x":{"datum":10.97,"type":"quantitative","scale":{"domain":[0,9],"nice":false,"zero":false},"axis":null},"x2":{"datum":11.33},"y":{"field":"g","type":"nominal","scale":{"domain":["L","M","G"],"paddingInner":0,"paddingOuter":0},"axis":null,"bandPosition":0.89}}},
{"data":{"values":[{"g":"L"},{"g":"M"},{"g":"G"}]},"mark":{"type":"text","align":"left","baseline":"middle","fontSize":28,"color":"black"},"encoding":{"x":{"datum":11.53,"type":"quantitative","scale":{"domain":[0,9],"nice":false,"zero":false},"axis":null},"y":{"field":"g","type":"nominal","scale":{"domain":["L","M","G"],"paddingInner":0,"paddingOuter":0},"axis":null},"text":{"field":"g"}}}
]}
],"spacing":447,"bounds":"flush"},
{"hconcat":[
{"width":501,"height":501,"resolve":{"scale":{"x":"independent","y":"independent"}},"layer":[
{"data":{"name":"healthy"},"mark":{"type":"rect","stroke":"#222222","strokeWidth":1.5},"encoding":{"x":{"field":"col","type":"nominal","title":null,"scale":{"domain":["L TLR2","L TLR2,4","L TLR4","M TLR2","M TLR2,4","M TLR4","G TLR2","G TLR2,4","G TLR4"],"paddingInner":0,"paddingOuter":0},"axis":{"orient":"top","labelAngle":270,"labelAlign":"left","labelBaseline":"middle","tickSize":5,"labelPadding":1,"labelExpr":"split(datum.value, ' ')[1]"}},"y":{"field":"row","type":"nominal","title":null,"scale":{"domain":["L TLR2","L TLR2,4","L TLR4","M TLR2","M TLR2,4","M TLR4","G TLR2","G TLR2,4","G TLR4"],"paddingInner":0,"paddingOuter":0},"axis":{"orient":"right","tickSize":9,"labelPadding":6,"labelExpr":"split(datum.value, ' ')[1]"}},"color":{"field":"r","type":"quantitative","scale":{"domain":[-1,0,1],"range":["#ff0000","#ffffff","#0000ff"],"interpolate":"rgb"},"legend":null}}},
{"data":{"name":"healthy"},"mark":{"type":"text","fontSize":18.5},"encoding":{"x":{"field":"col","type":"nominal","scale":{"domain":["L TLR2","L TLR2,4","L TLR4","M TLR2","M TLR2,4","M TLR4","G TLR2","G TLR2,4","G TLR4"],"paddingInner":0,"paddingOuter":0},"axis":null},"y":{"field":"row","type":"nominal","scale":{"domain":["L TLR2","L TLR2,4","L TLR4","M TLR2","M TLR2,4","M TLR4","G TLR2","G TLR2,4","G TLR4"],"paddingInner":0,"paddingOuter":0},"axis":null},"text":{"field":"r","type":"quantitative","format":".3f"},"color":{"condition":{"test":"datum.r >= 0.62","value":"white"},"value":"black"}}},
{"data":{"values":[{}]},"mark":{"type":"rect","fill":"transparent","stroke":"black","strokeWidth":4},"encoding":{"x":{"datum":0,"type":"quantitative","scale":{"domain":[0,9],"nice":false,"zero":false},"axis":null},"x2":{"datum":9},"y":{"datum":0,"type":"quantitative","scale":{"domain":[0,9],"nice":false,"zero":false,"reverse":true},"axis":null},"y2":{"datum":9}}},
{"data":{"values":[{}]},"mark":{"type":"rect","fill":{"gradient":"linear","x1":0,"y1":0,"x2":0,"y2":1,"stops":[{"offset":0,"color":"#0000ff"},{"offset":0.5,"color":"#ffffff"},{"offset":1,"color":"#ff0000"}]},"stroke":"black","strokeWidth":3},"encoding":{"x":{"datum":-1.697,"type":"quantitative","scale":{"domain":[0,9],"nice":false,"zero":false},"axis":null},"x2":{"datum":-0.961},"y":{"datum":0,"type":"quantitative","scale":{"domain":[0,9],"nice":false,"zero":false,"reverse":true},"axis":null},"y2":{"datum":9}}},
{"data":{"values":[{"v":1,"t":"1.0"},{"v":0.5,"t":"0.5"},{"v":0,"t":"0"},{"v":-0.5,"t":"-0.5"},{"v":-1,"t":"-1.0"}]},"mark":{"type":"text","align":"left","baseline":"middle","fontSize":28,"color":"black"},"encoding":{"x":{"datum":-2.8,"type":"quantitative","scale":{"domain":[0,9],"nice":false,"zero":false},"axis":null},"y":{"field":"v","type":"quantitative","scale":{"domain":[-1,1],"nice":false,"zero":false},"axis":null},"text":{"field":"t"}}},
{"data":{"values":[{"t":"Pearson r"}]},"mark":{"type":"text","align":"left","baseline":"alphabetic","fontSize":29,"color":"black"},"encoding":{"x":{"datum":-2.36,"type":"quantitative","scale":{"domain":[0,9],"nice":false,"zero":false},"axis":null},"y":{"datum":-0.736,"type":"quantitative","scale":{"domain":[0,9],"nice":false,"zero":false,"reverse":true},"axis":null},"text":{"field":"t"}}},
{"data":{"values":[{"t":"Healthy"}]},"mark":{"type":"text","align":"center","baseline":"alphabetic","fontSize":32,"fontWeight":"bold","color":"black"},"encoding":{"x":{"datum":4.5,"type":"quantitative","scale":{"domain":[0,9],"nice":false,"zero":false},"axis":null},"y":{"datum":-3.27,"type":"quantitative","scale":{"domain":[0,9],"nice":false,"zero":false,"reverse":true},"axis":null},"text":{"field":"t"}}},
{"data":{"values":[{"t":"c"}]},"mark":{"type":"text","align":"left","baseline":"alphabetic","fontSize":70,"fontWeight":"bold","color":"black"},"encoding":{"x":{"datum":-2.42,"type":"quantitative","scale":{"domain":[0,9],"nice":false,"zero":false},"axis":null},"y":{"datum":-1.57,"type":"quantitative","scale":{"domain":[0,9],"nice":false,"zero":false,"reverse":true},"axis":null},"text":{"field":"t"}}},
{"data":{"values":[{"g":"L"},{"g":"M"},{"g":"G"}]},"mark":{"type":"text","align":"center","baseline":"alphabetic","fontSize":28,"color":"black"},"encoding":{"x":{"field":"g","type":"nominal","scale":{"domain":["L","M","G"],"paddingInner":0,"paddingOuter":0},"axis":null},"y":{"datum":-2.35,"type":"quantitative","scale":{"domain":[0,9],"nice":false,"zero":false,"reverse":true},"axis":null},"text":{"field":"g"}}},
{"data":{"values":[{"g":"L"},{"g":"M"},{"g":"G"}]},"mark":{"type":"rule"},"encoding":{"x":{"field":"g","type":"nominal","scale":{"domain":["L","M","G"],"paddingInner":0,"paddingOuter":0},"axis":null,"bandPosition":0.095},"x2":{"field":"g","bandPosition":0.905},"y":{"datum":-2.05,"type":"quantitative","scale":{"domain":[0,9],"nice":false,"zero":false,"reverse":true},"axis":null}}},
{"data":{"values":[{"g":"L"},{"g":"M"},{"g":"G"}]},"mark":{"type":"rule"},"encoding":{"x":{"field":"g","type":"nominal","scale":{"domain":["L","M","G"],"paddingInner":0,"paddingOuter":0},"axis":null,"bandPosition":0.095},"y":{"datum":-2.05,"type":"quantitative","scale":{"domain":[0,9],"nice":false,"zero":false,"reverse":true},"axis":null},"y2":{"datum":-1.8}}},
{"data":{"values":[{"g":"L"},{"g":"M"},{"g":"G"}]},"mark":{"type":"rule"},"encoding":{"x":{"field":"g","type":"nominal","scale":{"domain":["L","M","G"],"paddingInner":0,"paddingOuter":0},"axis":null,"bandPosition":0.905},"y":{"datum":-2.05,"type":"quantitative","scale":{"domain":[0,9],"nice":false,"zero":false,"reverse":true},"axis":null},"y2":{"datum":-1.8}}},
{"data":{"values":[{"g":"L"},{"g":"M"},{"g":"G"}]},"mark":{"type":"rule"},"encoding":{"x":{"datum":11.33,"type":"quantitative","scale":{"domain":[0,9],"nice":false,"zero":false},"axis":null},"y":{"field":"g","type":"nominal","scale":{"domain":["L","M","G"],"paddingInner":0,"paddingOuter":0},"axis":null,"bandPosition":0.1},"y2":{"field":"g","bandPosition":0.89}}},
{"data":{"values":[{"g":"L"},{"g":"M"},{"g":"G"}]},"mark":{"type":"rule"},"encoding":{"x":{"datum":10.97,"type":"quantitative","scale":{"domain":[0,9],"nice":false,"zero":false},"axis":null},"x2":{"datum":11.33},"y":{"field":"g","type":"nominal","scale":{"domain":["L","M","G"],"paddingInner":0,"paddingOuter":0},"axis":null,"bandPosition":0.1}}},
{"data":{"values":[{"g":"L"},{"g":"M"},{"g":"G"}]},"mark":{"type":"rule"},"encoding":{"x":{"datum":10.97,"type":"quantitative","scale":{"domain":[0,9],"nice":false,"zero":false},"axis":null},"x2":{"datum":11.33},"y":{"field":"g","type":"nominal","scale":{"domain":["L","M","G"],"paddingInner":0,"paddingOuter":0},"axis":null,"bandPosition":0.89}}},
{"data":{"values":[{"g":"L"},{"g":"M"},{"g":"G"}]},"mark":{"type":"text","align":"left","baseline":"middle","fontSize":28,"color":"black"},"encoding":{"x":{"datum":11.53,"type":"quantitative","scale":{"domain":[0,9],"nice":false,"zero":false},"axis":null},"y":{"field":"g","type":"nominal","scale":{"domain":["L","M","G"],"paddingInner":0,"paddingOuter":0},"axis":null},"text":{"field":"g"}}}
]},
{"width":501,"height":501,"resolve":{"scale":{"x":"independent","y":"independent"}},"layer":[
{"data":{"name":"inapparent"},"mark":{"type":"rect","stroke":"#222222","strokeWidth":1.5},"encoding":{"x":{"field":"col","type":"nominal","title":null,"scale":{"domain":["L TLR2","L TLR2,4","L TLR4","M TLR2","M TLR2,4","M TLR4","G TLR2","G TLR2,4","G TLR4"],"paddingInner":0,"paddingOuter":0},"axis":{"orient":"top","labelAngle":270,"labelAlign":"left","labelBaseline":"middle","tickSize":5,"labelPadding":1,"labelExpr":"split(datum.value, ' ')[1]"}},"y":{"field":"row","type":"nominal","title":null,"scale":{"domain":["L TLR2","L TLR2,4","L TLR4","M TLR2","M TLR2,4","M TLR4","G TLR2","G TLR2,4","G TLR4"],"paddingInner":0,"paddingOuter":0},"axis":{"orient":"right","tickSize":9,"labelPadding":6,"labelExpr":"split(datum.value, ' ')[1]"}},"color":{"field":"r","type":"quantitative","scale":{"domain":[-1,0,1],"range":["#ff0000","#ffffff","#0000ff"],"interpolate":"rgb"},"legend":null}}},
{"data":{"name":"inapparent"},"mark":{"type":"text","fontSize":18.5},"encoding":{"x":{"field":"col","type":"nominal","scale":{"domain":["L TLR2","L TLR2,4","L TLR4","M TLR2","M TLR2,4","M TLR4","G TLR2","G TLR2,4","G TLR4"],"paddingInner":0,"paddingOuter":0},"axis":null},"y":{"field":"row","type":"nominal","scale":{"domain":["L TLR2","L TLR2,4","L TLR4","M TLR2","M TLR2,4","M TLR4","G TLR2","G TLR2,4","G TLR4"],"paddingInner":0,"paddingOuter":0},"axis":null},"text":{"field":"r","type":"quantitative","format":".3f"},"color":{"condition":{"test":"datum.r >= 0.62","value":"white"},"value":"black"}}},
{"data":{"values":[{}]},"mark":{"type":"rect","fill":"transparent","stroke":"black","strokeWidth":4},"encoding":{"x":{"datum":0,"type":"quantitative","scale":{"domain":[0,9],"nice":false,"zero":false},"axis":null},"x2":{"datum":9},"y":{"datum":0,"type":"quantitative","scale":{"domain":[0,9],"nice":false,"zero":false,"reverse":true},"axis":null},"y2":{"datum":9}}},
{"data":{"values":[{}]},"mark":{"type":"rect","fill":{"gradient":"linear","x1":0,"y1":0,"x2":0,"y2":1,"stops":[{"offset":0,"color":"#0000ff"},{"offset":0.5,"color":"#ffffff"},{"offset":1,"color":"#ff0000"}]},"stroke":"black","strokeWidth":3},"encoding":{"x":{"datum":-1.697,"type":"quantitative","scale":{"domain":[0,9],"nice":false,"zero":false},"axis":null},"x2":{"datum":-0.961},"y":{"datum":0,"type":"quantitative","scale":{"domain":[0,9],"nice":false,"zero":false,"reverse":true},"axis":null},"y2":{"datum":9}}},
{"data":{"values":[{"v":1,"t":"1.0"},{"v":0.5,"t":"0.5"},{"v":0,"t":"0"},{"v":-0.5,"t":"-0.5"},{"v":-1,"t":"-1.0"}]},"mark":{"type":"text","align":"left","baseline":"middle","fontSize":28,"color":"black"},"encoding":{"x":{"datum":-2.8,"type":"quantitative","scale":{"domain":[0,9],"nice":false,"zero":false},"axis":null},"y":{"field":"v","type":"quantitative","scale":{"domain":[-1,1],"nice":false,"zero":false},"axis":null},"text":{"field":"t"}}},
{"data":{"values":[{"t":"Pearson r"}]},"mark":{"type":"text","align":"left","baseline":"alphabetic","fontSize":29,"color":"black"},"encoding":{"x":{"datum":-2.36,"type":"quantitative","scale":{"domain":[0,9],"nice":false,"zero":false},"axis":null},"y":{"datum":-0.736,"type":"quantitative","scale":{"domain":[0,9],"nice":false,"zero":false,"reverse":true},"axis":null},"text":{"field":"t"}}},
{"data":{"values":[{"t":"Inapparent"}]},"mark":{"type":"text","align":"center","baseline":"alphabetic","fontSize":32,"fontWeight":"bold","color":"black"},"encoding":{"x":{"datum":4.5,"type":"quantitative","scale":{"domain":[0,9],"nice":false,"zero":false},"axis":null},"y":{"datum":-3.27,"type":"quantitative","scale":{"domain":[0,9],"nice":false,"zero":false,"reverse":true},"axis":null},"text":{"field":"t"}}},
{"data":{"values":[{"t":"d"}]},"mark":{"type":"text","align":"left","baseline":"alphabetic","fontSize":70,"fontWeight":"bold","color":"black"},"encoding":{"x":{"datum":-2.42,"type":"quantitative","scale":{"domain":[0,9],"nice":false,"zero":false},"axis":null},"y":{"datum":-1.57,"type":"quantitative","scale":{"domain":[0,9],"nice":false,"zero":false,"reverse":true},"axis":null},"text":{"field":"t"}}},
{"data":{"values":[{"g":"L"},{"g":"M"},{"g":"G"}]},"mark":{"type":"text","align":"center","baseline":"alphabetic","fontSize":28,"color":"black"},"encoding":{"x":{"field":"g","type":"nominal","scale":{"domain":["L","M","G"],"paddingInner":0,"paddingOuter":0},"axis":null},"y":{"datum":-2.35,"type":"quantitative","scale":{"domain":[0,9],"nice":false,"zero":false,"reverse":true},"axis":null},"text":{"field":"g"}}},
{"data":{"values":[{"g":"L"},{"g":"M"},{"g":"G"}]},"mark":{"type":"rule"},"encoding":{"x":{"field":"g","type":"nominal","scale":{"domain":["L","M","G"],"paddingInner":0,"paddingOuter":0},"axis":null,"bandPosition":0.095},"x2":{"field":"g","bandPosition":0.905},"y":{"datum":-2.05,"type":"quantitative","scale":{"domain":[0,9],"nice":false,"zero":false,"reverse":true},"axis":null}}},
{"data":{"values":[{"g":"L"},{"g":"M"},{"g":"G"}]},"mark":{"type":"rule"},"encoding":{"x":{"field":"g","type":"nominal","scale":{"domain":["L","M","G"],"paddingInner":0,"paddingOuter":0},"axis":null,"bandPosition":0.095},"y":{"datum":-2.05,"type":"quantitative","scale":{"domain":[0,9],"nice":false,"zero":false,"reverse":true},"axis":null},"y2":{"datum":-1.8}}},
{"data":{"values":[{"g":"L"},{"g":"M"},{"g":"G"}]},"mark":{"type":"rule"},"encoding":{"x":{"field":"g","type":"nominal","scale":{"domain":["L","M","G"],"paddingInner":0,"paddingOuter":0},"axis":null,"bandPosition":0.905},"y":{"datum":-2.05,"type":"quantitative","scale":{"domain":[0,9],"nice":false,"zero":false,"reverse":true},"axis":null},"y2":{"datum":-1.8}}},
{"data":{"values":[{"g":"L"},{"g":"M"},{"g":"G"}]},"mark":{"type":"rule"},"encoding":{"x":{"datum":11.33,"type":"quantitative","scale":{"domain":[0,9],"nice":false,"zero":false},"axis":null},"y":{"field":"g","type":"nominal","scale":{"domain":["L","M","G"],"paddingInner":0,"paddingOuter":0},"axis":null,"bandPosition":0.1},"y2":{"field":"g","bandPosition":0.89}}},
{"data":{"values":[{"g":"L"},{"g":"M"},{"g":"G"}]},"mark":{"type":"rule"},"encoding":{"x":{"datum":10.97,"type":"quantitative","scale":{"domain":[0,9],"nice":false,"zero":false},"axis":null},"x2":{"datum":11.33},"y":{"field":"g","type":"nominal","scale":{"domain":["L","M","G"],"paddingInner":0,"paddingOuter":0},"axis":null,"bandPosition":0.1}}},
{"data":{"values":[{"g":"L"},{"g":"M"},{"g":"G"}]},"mark":{"type":"rule"},"encoding":{"x":{"datum":10.97,"type":"quantitative","scale":{"domain":[0,9],"nice":false,"zero":false},"axis":null},"x2":{"datum":11.33},"y":{"field":"g","type":"nominal","scale":{"domain":["L","M","G"],"paddingInner":0,"paddingOuter":0},"axis":null,"bandPosition":0.89}}},
{"data":{"values":[{"g":"L"},{"g":"M"},{"g":"G"}]},"mark":{"type":"text","align":"left","baseline":"middle","fontSize":28,"color":"black"},"encoding":{"x":{"datum":11.53,"type":"quantitative","scale":{"domain":[0,9],"nice":false,"zero":false},"axis":null},"y":{"field":"g","type":"nominal","scale":{"domain":["L","M","G"],"paddingInner":0,"paddingOuter":0},"axis":null},"text":{"field":"g"}}}
]}
],"spacing":447,"bounds":"flush"},
{"hconcat":[
{"width":501,"height":501,"resolve":{"scale":{"x":"independent","y":"independent"}},"layer":[
{"data":{"name":"recovery"},"mark":{"type":"rect","stroke":"#222222","strokeWidth":1.5},"encoding":{"x":{"field":"col","type":"nominal","title":null,"scale":{"domain":["L TLR2","L TLR2,4","L TLR4","M TLR2","M TLR2,4","M TLR4","G TLR2","G TLR2,4","G TLR4"],"paddingInner":0,"paddingOuter":0},"axis":{"orient":"top","labelAngle":270,"labelAlign":"left","labelBaseline":"middle","tickSize":5,"labelPadding":1,"labelExpr":"split(datum.value, ' ')[1]"}},"y":{"field":"row","type":"nominal","title":null,"scale":{"domain":["L TLR2","L TLR2,4","L TLR4","M TLR2","M TLR2,4","M TLR4","G TLR2","G TLR2,4","G TLR4"],"paddingInner":0,"paddingOuter":0},"axis":{"orient":"right","tickSize":9,"labelPadding":6,"labelExpr":"split(datum.value, ' ')[1]"}},"color":{"field":"r","type":"quantitative","scale":{"domain":[-1,0,1],"range":["#ff0000","#ffffff","#0000ff"],"interpolate":"rgb"},"legend":null}}},
{"data":{"name":"recovery"},"mark":{"type":"text","fontSize":18.5},"encoding":{"x":{"field":"col","type":"nominal","scale":{"domain":["L TLR2","L TLR2,4","L TLR4","M TLR2","M TLR2,4","M TLR4","G TLR2","G TLR2,4","G TLR4"],"paddingInner":0,"paddingOuter":0},"axis":null},"y":{"field":"row","type":"nominal","scale":{"domain":["L TLR2","L TLR2,4","L TLR4","M TLR2","M TLR2,4","M TLR4","G TLR2","G TLR2,4","G TLR4"],"paddingInner":0,"paddingOuter":0},"axis":null},"text":{"field":"r","type":"quantitative","format":".3f"},"color":{"condition":{"test":"datum.r >= 0.62","value":"white"},"value":"black"}}},
{"data":{"values":[{}]},"mark":{"type":"rect","fill":"transparent","stroke":"black","strokeWidth":4},"encoding":{"x":{"datum":0,"type":"quantitative","scale":{"domain":[0,9],"nice":false,"zero":false},"axis":null},"x2":{"datum":9},"y":{"datum":0,"type":"quantitative","scale":{"domain":[0,9],"nice":false,"zero":false,"reverse":true},"axis":null},"y2":{"datum":9}}},
{"data":{"values":[{}]},"mark":{"type":"rect","fill":{"gradient":"linear","x1":0,"y1":0,"x2":0,"y2":1,"stops":[{"offset":0,"color":"#0000ff"},{"offset":0.5,"color":"#ffffff"},{"offset":1,"color":"#ff0000"}]},"stroke":"black","strokeWidth":3},"encoding":{"x":{"datum":-1.697,"type":"quantitative","scale":{"domain":[0,9],"nice":false,"zero":false},"axis":null},"x2":{"datum":-0.961},"y":{"datum":0,"type":"quantitative","scale":{"domain":[0,9],"nice":false,"zero":false,"reverse":true},"axis":null},"y2":{"datum":9}}},
{"data":{"values":[{"v":1,"t":"1.0"},{"v":0.5,"t":"0.5"},{"v":0,"t":"0"},{"v":-0.5,"t":"-0.5"},{"v":-1,"t":"-1.0"}]},"mark":{"type":"text","align":"left","baseline":"middle","fontSize":28,"color":"black"},"encoding":{"x":{"datum":-2.8,"type":"quantitative","scale":{"domain":[0,9],"nice":false,"zero":false},"axis":null},"y":{"field":"v","type":"quantitative","scale":{"domain":[-1,1],"nice":false,"zero":false},"axis":null},"text":{"field":"t"}}},
{"data":{"values":[{"t":"Pearson r"}]},"mark":{"type":"text","align":"left","baseline":"alphabetic","fontSize":29,"color":"black"},"encoding":{"x":{"datum":-2.36,"type":"quantitative","scale":{"domain":[0,9],"nice":false,"zero":false},"axis":null},"y":{"datum":-0.736,"type":"quantitative","scale":{"domain":[0,9],"nice":false,"zero":false,"reverse":true},"axis":null},"text":{"field":"t"}}},
{"data":{"values":[{"t":"Recovery"}]},"mark":{"type":"text","align":"center","baseline":"alphabetic","fontSize":32,"fontWeight":"bold","color":"black"},"encoding":{"x":{"datum":4.5,"type":"quantitative","scale":{"domain":[0,9],"nice":false,"zero":false},"axis":null},"y":{"datum":-3.27,"type":"quantitative","scale":{"domain":[0,9],"nice":false,"zero":false,"reverse":true},"axis":null},"text":{"field":"t"}}},
{"data":{"values":[{"t":"e"}]},"mark":{"type":"text","align":"left","baseline":"alphabetic","fontSize":70,"fontWeight":"bold","color":"black"},"encoding":{"x":{"datum":-2.42,"type":"quantitative","scale":{"domain":[0,9],"nice":false,"zero":false},"axis":null},"y":{"datum":-2.05,"type":"quantitative","scale":{"domain":[0,9],"nice":false,"zero":false,"reverse":true},"axis":null},"text":{"field":"t"}}},
{"data":{"values":[{"g":"L"},{"g":"M"},{"g":"G"}]},"mark":{"type":"text","align":"center","baseline":"alphabetic","fontSize":28,"color":"black"},"encoding":{"x":{"field":"g","type":"nominal","scale":{"domain":["L","M","G"],"paddingInner":0,"paddingOuter":0},"axis":null},"y":{"datum":-2.35,"type":"quantitative","scale":{"domain":[0,9],"nice":false,"zero":false,"reverse":true},"axis":null},"text":{"field":"g"}}},
{"data":{"values":[{"g":"L"},{"g":"M"},{"g":"G"}]},"mark":{"type":"rule"},"encoding":{"x":{"field":"g","type":"nominal","scale":{"domain":["L","M","G"],"paddingInner":0,"paddingOuter":0},"axis":null,"bandPosition":0.095},"x2":{"field":"g","bandPosition":0.905},"y":{"datum":-2.05,"type":"quantitative","scale":{"domain":[0,9],"nice":false,"zero":false,"reverse":true},"axis":null}}},
{"data":{"values":[{"g":"L"},{"g":"M"},{"g":"G"}]},"mark":{"type":"rule"},"encoding":{"x":{"field":"g","type":"nominal","scale":{"domain":["L","M","G"],"paddingInner":0,"paddingOuter":0},"axis":null,"bandPosition":0.095},"y":{"datum":-2.05,"type":"quantitative","scale":{"domain":[0,9],"nice":false,"zero":false,"reverse":true},"axis":null},"y2":{"datum":-1.8}}},
{"data":{"values":[{"g":"L"},{"g":"M"},{"g":"G"}]},"mark":{"type":"rule"},"encoding":{"x":{"field":"g","type":"nominal","scale":{"domain":["L","M","G"],"paddingInner":0,"paddingOuter":0},"axis":null,"bandPosition":0.905},"y":{"datum":-2.05,"type":"quantitative","scale":{"domain":[0,9],"nice":false,"zero":false,"reverse":true},"axis":null},"y2":{"datum":-1.8}}},
{"data":{"values":[{"g":"L"},{"g":"M"},{"g":"G"}]},"mark":{"type":"rule"},"encoding":{"x":{"datum":11.33,"type":"quantitative","scale":{"domain":[0,9],"nice":false,"zero":false},"axis":null},"y":{"field":"g","type":"nominal","scale":{"domain":["L","M","G"],"paddingInner":0,"paddingOuter":0},"axis":null,"bandPosition":0.1},"y2":{"field":"g","bandPosition":0.89}}},
{"data":{"values":[{"g":"L"},{"g":"M"},{"g":"G"}]},"mark":{"type":"rule"},"encoding":{"x":{"datum":10.97,"type":"quantitative","scale":{"domain":[0,9],"nice":false,"zero":false},"axis":null},"x2":{"datum":11.33},"y":{"field":"g","type":"nominal","scale":{"domain":["L","M","G"],"paddingInner":0,"paddingOuter":0},"axis":null,"bandPosition":0.1}}},
{"data":{"values":[{"g":"L"},{"g":"M"},{"g":"G"}]},"mark":{"type":"rule"},"encoding":{"x":{"datum":10.97,"type":"quantitative","scale":{"domain":[0,9],"nice":false,"zero":false},"axis":null},"x2":{"datum":11.33},"y":{"field":"g","type":"nominal","scale":{"domain":["L","M","G"],"paddingInner":0,"paddingOuter":0},"axis":null,"bandPosition":0.89}}},
{"data":{"values":[{"g":"L"},{"g":"M"},{"g":"G"}]},"mark":{"type":"text","align":"left","baseline":"middle","fontSize":28,"color":"black"},"encoding":{"x":{"datum":11.53,"type":"quantitative","scale":{"domain":[0,9],"nice":false,"zero":false},"axis":null},"y":{"field":"g","type":"nominal","scale":{"domain":["L","M","G"],"paddingInner":0,"paddingOuter":0},"axis":null},"text":{"field":"g"}}},
{"data":{"values":[{}]},"mark":{"type":"rule","color":"white","strokeWidth":1,"strokeCap":"butt"},"encoding":{"x":{"datum":0,"type":"quantitative","scale":{"domain":[0,9],"nice":false,"zero":false},"axis":null},"x2":{"datum":1},"y":{"datum":-4.266,"type":"quantitative","scale":{"domain":[0,9],"nice":false,"zero":false,"reverse":true},"axis":null}}}
]}
],"bounds":"flush"}
]
}
